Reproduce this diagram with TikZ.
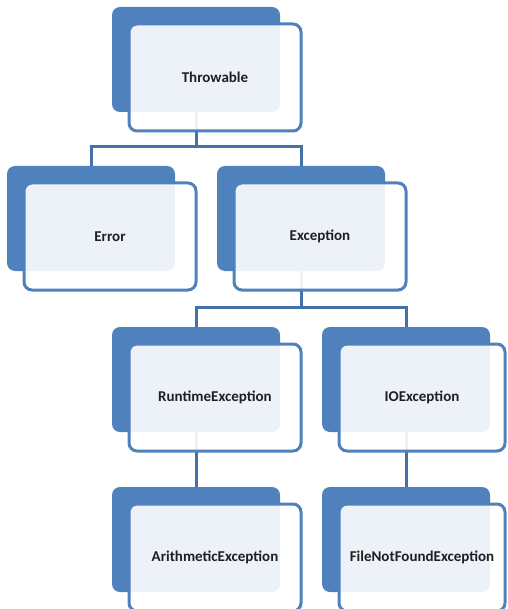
\documentclass[tikz,border=0pt]{standalone}
\usepackage{fontspec}
\setmainfont{Carlito}
\usetikzlibrary{positioning}
\definecolor{boxblue}{RGB}{79,129,189}
\definecolor{lineblue}{RGB}{68,114,168}
\tikzset{
    back/.style={fill=boxblue, rounded corners=8pt, minimum width=168pt, minimum height=105pt, inner sep=0pt, outer sep=0pt, anchor=north west},
    front/.style={draw=boxblue, line width=3pt, fill=white, fill opacity=0.9, text opacity=1, rounded corners=8pt, minimum width=172pt, minimum height=107pt, inner sep=0pt, outer sep=0pt, text=black!88, font=\bfseries\fontsize{15}{17}\selectfont},
    link/.style={draw=lineblue, line width=3pt}
}
\begin{document}
\begin{tikzpicture}[x=1pt, y=-1pt]
    \useasboundingbox (0,0) rectangle (507,609);
    \clip (0,0) rectangle (507,609);

    % back boxes
    \node[back] (thr) at (112,7) {};
    \node[back] (err) at (7,166) {};
    \node[back] (exc) at (217,166) {};
    \node[back] (rte) at (112,327) {};
    \node[back] (ioe) at (322,327) {};
    \node[back] (ari) at (112,487) {};
    \node[back] (fnf) at (322,487) {};

    % connectors
    \draw[link] (thr.south) -- ++(0,35) -| (err.north);
    \draw[link] (thr.south) -- ++(0,35) -| (exc.north);
    \draw[link] (exc.south) -- ++(0,36) -| (rte.north);
    \draw[link] (exc.south) -- ++(0,36) -| (ioe.north);
    \draw[link] (rte.south) -- (ari.north);
    \draw[link] (ioe.south) -- (fnf.north);

    % front boxes with the labels
    \node[front, below right=17pt and 17pt of thr.north west] (thrF) {Throwable};
    \node[front, below right=17pt and 17pt of err.north west] (errF) {Error};
    \node[front, below right=17pt and 17pt of exc.north west] (excF) {Exception};
    \node[front, below right=17pt and 17pt of rte.north west] (rteF) {RuntimeException};
    \node[front, minimum width=166pt, below right=17pt and 17pt of ioe.north west] (ioeF) {IOException};
    \node[front, below right=17pt and 17pt of ari.north west] (ariF) {ArithmeticException};
    \node[front, minimum width=166pt, below right=17pt and 17pt of fnf.north west] (fnfF) {FileNotFoundException};
\end{tikzpicture}
\end{document}
